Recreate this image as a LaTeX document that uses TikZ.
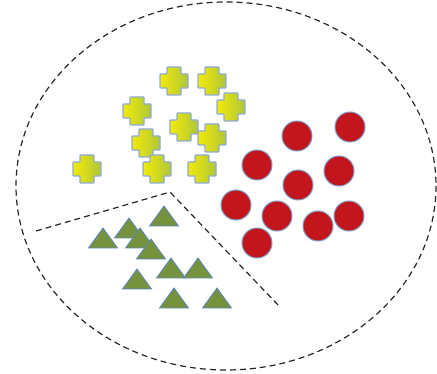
\documentclass[tikz,border=0pt]{standalone}
\begin{document}
\begin{tikzpicture}[x=1pt,y=-1pt]
\definecolor{crossL}{HTML}{F2EA05}
\definecolor{crossR}{HTML}{AFC63C}
\definecolor{crossB}{HTML}{8EAAD6}
\definecolor{circF}{HTML}{C3161C}
\definecolor{circB}{HTML}{7F9CC8}
\definecolor{triF}{HTML}{76923C}
\definecolor{triB}{HTML}{5B86C4}
\tikzset{
  divider/.style={draw=black!85, line width=1.2pt, dash pattern=on 6pt off 4pt},
  crossstyle/.style={left color=crossL, right color=crossR, draw=crossB, line width=1.2pt, rounded corners=0.8pt},
  circstyle/.style={fill=circF, draw=circB, line width=1pt},
  tristyle/.style={fill=triF, draw=triB, line width=0.8pt},
  crossshape/.pic={\path[crossstyle] (-14,-7) -- (-7,-7) -- (-7,-14) -- (7,-14) -- (7,-7) -- (14,-7) -- (14,7) -- (7,7) -- (7,14) -- (-7,14) -- (-7,7) -- (-14,7) -- cycle;},
  dotshape/.pic={\path[circstyle] (0,0) circle[radius=15];},
  trishape/.pic={\path[tristyle] (0,-10) -- (14.5,10) -- (-14.5,10) -- cycle;}
}
\useasboundingbox (0,0) rectangle (437,374);
% outer ellipse
\draw[divider] (226,186) ellipse[x radius=210, y radius=184];
% divider lines
\coordinate (dl) at (36,231);
\coordinate (dm) at (170,192);
\coordinate (dr) at (280,307);
\draw[divider] (dl) -- (dm) -- (dr);
% crosses
\foreach \p in {(174,81),(212,81),(137,111),(231,107),(184,127),(212,138),(146,143),(87,169),(157,169),(202,169)}
  \pic at \p {crossshape};
% circles
\foreach \p in {(297,136),(350,127),(257,165),(339,171),(298,185),(236,205),(277,216),(318,226),(349,216),(257,243)}
  \pic at \p {dotshape};
% triangles
\foreach \p in {(164,216),(103,238),(129,228),(140,238),(151,249),(171,268),(198,268),(137,279),(174,298),(217,298)}
  \pic at \p {trishape};
\end{tikzpicture}
\end{document}
